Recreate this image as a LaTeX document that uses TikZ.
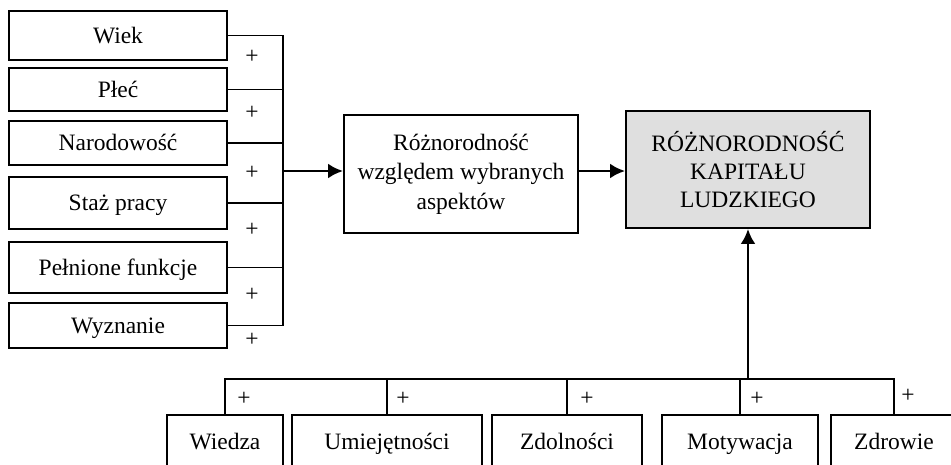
\documentclass[tikz,border=0pt]{standalone}
\usepackage{fontspec}
\setmainfont{Liberation Serif}
\usetikzlibrary{arrows.meta}

\begin{document}
\begin{tikzpicture}[x=1pt, y=-1pt,
    pole/.style={draw, line width=1.9pt, inner sep=0pt, align=center,
      font=\fontsize{23.5}{29.5}\selectfont},
    jedno/.style={pole, text height=15.6pt, text depth=0pt},
    znak/.style={inner sep=0pt, font=\fontsize{23.5}{28}\selectfont},
    linia/.style={line width=1.9pt},
    strzalka/.style={line width=2.8pt, -{Latex[length=15pt,width=15pt]}}]
        \useasboundingbox (0,0) rectangle (951,464);
        \clip (0,0) rectangle (951,464);
        % lewa kolumna
        \node[jedno, minimum width=218pt, minimum height=49pt] (wiek) at (118,35.5) {Wiek};
        \node[jedno, minimum width=218pt, minimum height=43pt] (plec) at (118,89.5) {Płeć};
        \node[jedno, minimum width=218pt, minimum height=44pt] (narod) at (118,143) {Narodowość};
        \node[jedno, minimum width=218pt, minimum height=52pt] (staz) at (118,203) {Staż pracy};
        \node[jedno, minimum width=218pt, minimum height=51pt] (funkcje) at (118,267.5) {Pełnione funkcje};
        \node[jedno, minimum width=218pt, minimum height=45pt] (wyznanie) at (118,325.5) {Wyznanie};
        % srodek i wynik
        \node[pole, minimum width=234pt, minimum height=118pt] (srodek) at (461,174) {Różnorodność\\względem wybranych\\aspektów};
        \node[pole, fill=gray!25, minimum width=244pt, minimum height=117pt, font=\fontsize{23.5}{28}\selectfont] (kapital) at (748,169.5) {RÓŻNORODNOŚĆ\\KAPITAŁU\\LUDZKIEGO};
        % dolny rzad
        \node[jedno, minimum width=116pt, minimum height=54pt] (wiedza) at (225,442) {Wiedza};
        \node[jedno, minimum width=190pt, minimum height=54pt] (umiej) at (387,442) {Umiejętności};
        \node[jedno, minimum width=150pt, minimum height=54pt] (zdoln) at (567,442) {Zdolności};
        \node[jedno, minimum width=156pt, minimum height=54pt] (motyw) at (740,442) {Motywacja};
        \node[jedno, minimum width=126pt, minimum height=54pt] (zdrowie) at (894,442) {Zdrowie};

        \coordinate (zbior) at (283,171);
        \coordinate (szyna) at (747,379);

        \draw[linia] (wiek.east) -- (wiek.east -| zbior) -- (wyznanie.east -| zbior) -- (wyznanie.east);
        \draw[linia] (plec.east) -- (plec.east -| zbior);
        \draw[linia] (narod.east) -- (narod.east -| zbior);
        \draw[linia] (staz.east) -- (staz.east -| zbior);
        \draw[linia] (funkcje.east) -- (funkcje.east -| zbior);

        \draw[linia] (wiedza.north) -- (wiedza.north |- szyna) -- (zdrowie.north |- szyna) -- (zdrowie.north);
        \draw[linia] (umiej.north) -- (umiej.north |- szyna);
        \draw[linia] (zdoln.north) -- (zdoln.north |- szyna);
        \draw[linia] (motyw.north) -- (motyw.north |- szyna);

        \draw[strzalka] (zbior) -- (zbior -| srodek.west);
        \draw[strzalka] (srodek.east |- zbior) -- (kapital.west |- zbior);
        \draw[strzalka] (kapital.south |- szyna) -- (kapital.south);

        \foreach \px/\py [count=\n] in {252/57, 252/113, 252/173, 252/230, 252/295, 252/340,
            244/399, 403/399, 587/399, 757/399, 908/396}
          \node[znak] (plus\n) at (\px,\py) {+};
    \end{tikzpicture}
\end{document}
